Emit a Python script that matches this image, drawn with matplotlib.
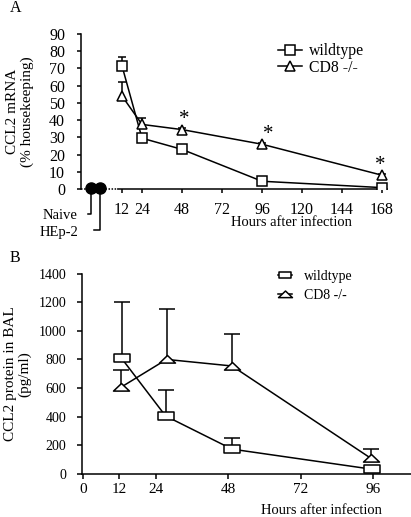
import matplotlib
matplotlib.use("Agg")
import matplotlib.pyplot as plt
from matplotlib.lines import Line2D
from matplotlib.path import Path
import numpy as np

plt.rcParams['font.family'] = ['Liberation Serif', 'DejaVu Serif']

# ---------------- Panel A data (CCL2 mRNA, % housekeeping) ----------------
a_hours_wt = [12, 24, 48, 96, 168]
a_wt = [71.5, 29.5, 23.0, 4.5, 0.8]
a_wt_err = [5.0, 1.5, 1.0, 1.0, 0.5]
a_hours_cd8 = [12, 24, 48, 96, 168]
a_cd8 = [54.0, 37.5, 34.5, 26.0, 8.0]
a_cd8_err = [8.0, 3.5, 1.0, 1.0, 1.0]
a_star_hours = [48, 96, 168]
a_star_vals = [34.5, 26.0, 8.0]
naive_x = [-6.5, -1.5]
naive_vals = [0.6, 0.6]
naive_labels = ["Naive", "HEp-2"]
a_xticks = [12, 24, 48, 72, 96, 120, 144, 168]
a_yticks = [0, 10, 20, 30, 40, 50, 60, 70, 80, 90]

# ---------------- Panel B data (CCL2 protein in BAL, pg/ml) ----------------
b_hours_wt = [12.7, 27.3, 49.3, 95.8]
b_wt = [808, 404, 172, 31]
b_wt_err = [395, 182, 78, 0]
b_hours_cd8 = [12.5, 27.6, 49.3, 95.3]
b_cd8 = [605, 800, 754, 108]
b_cd8_err = [120, 352, 224, 66]
b_xticks = [0, 12, 24, 48, 72, 96]
b_yticks = [0, 200, 400, 600, 800, 1000, 1200, 1400]

W, H = 411, 517
fig = plt.figure(figsize=(W / 100, H / 100), dpi=100)

lw = 1.1
# ======================= Panel A =======================
axA = fig.add_axes([81 / W, 1 - 189 / H, (387 - 81) / W, (189 - 34) / H])
axA.set_xlim(-12.6, 171)
axA.set_ylim(0, 90)
for s in ['top', 'right', 'bottom']:
    axA.spines[s].set_visible(False)
axA.spines['left'].set_linewidth(lw)
axA.set_xticks(a_xticks)
axA.set_yticks(a_yticks)
axA.tick_params(direction='out', length=3, width=lw, labelsize=11.5, pad=8.5)
axA.tick_params(axis='x', pad=6)
# x axis: dotted before 12 h, solid afterwards
axA.plot([-12.6, 9.5], [0, 0], color='k', lw=lw, ls=(0, (1, 1)), clip_on=False, zorder=2)
axA.plot([9.5, 171], [0, 0], color='k', lw=lw, clip_on=False, zorder=2)

def upper_err(ax, x, y, e, cap_ms):
    tops = [yy + ee for yy, ee in zip(y, e)]
    ax.vlines(x, y, tops, color='k', lw=lw, zorder=2)
    ax.plot(x, tops, ls='none', marker='_', ms=cap_ms, mew=lw, color='k', zorder=2)

upper_err(axA, a_hours_wt, a_wt, a_wt_err, 6)
upper_err(axA, a_hours_cd8, a_cd8, a_cd8_err, 6)
axA.plot(a_hours_wt, a_wt, color='k', lw=lw, marker='s', ms=6.5, mfc='white',
         mec='k', mew=lw, zorder=3, label='wildtype')
axA.plot(a_hours_cd8, a_cd8, color='k', lw=lw, marker='^', ms=6.8, mfc='white',
         mec='k', mew=lw, zorder=3, label='CD8 -/-')
star_dx = [1.5, 4.5, -1.5]
for hx, hy, dx in zip(a_star_hours, a_star_vals, star_dx):
    axA.annotate('*', (hx, hy), xytext=(dx, 0.5), textcoords='offset points',
                 ha='center', va='bottom', fontsize=15)

# naive / HEp-2 points and brackets
axA.plot(naive_x, naive_vals, ls='none', marker='o', ms=8, color='k',
         clip_on=False, zorder=5)
axA.plot([naive_x[0], naive_x[0], naive_x[0] - 2], [0, -14.5, -14.5],
         color='k', lw=lw, clip_on=False)
axA.plot([naive_x[1], naive_x[1], naive_x[1] - 3.5], [0, -24.0, -24.0],
         color='k', lw=lw, clip_on=False)
axA.text(-14.5, -15.5, naive_labels[0], ha='right', va='center', fontsize=10.5, clip_on=False)
axA.text(-14.0, -25.0, naive_labels[1], ha='right', va='center', fontsize=10.5, clip_on=False)

axA.set_ylabel('CCL2 mRNA\n(% housekeeping)', fontsize=11, labelpad=11, linespacing=1.15)
fig.text(291 / W, 1 - 223 / H, 'Hours after infection', ha='center', va='center', fontsize=10.5)
fig.text(10 / W, 1 - 8 / H, 'A', ha='left', va='center', fontsize=11.5)

axA.legend(loc='upper left', bbox_to_anchor=(278 / W, 1 - 43 / H),
           bbox_transform=fig.transFigure, frameon=False, fontsize=11.3,
           handlelength=1.5, handletextpad=0.45, labelspacing=0.05,
           borderpad=0, borderaxespad=0)

# ======================= Panel B =======================
wide_sq = Path([(-1, -0.55), (1, -0.55), (1, 0.55), (-1, 0.55), (-1, -0.55)],
               [Path.MOVETO, Path.LINETO, Path.LINETO, Path.LINETO, Path.CLOSEPOLY])
wide_tri = Path([(-1, -0.45), (1, -0.45), (0, 0.5), (-1, -0.45)],
                [Path.MOVETO, Path.LINETO, Path.LINETO, Path.CLOSEPOLY])

axB = fig.add_axes([82 / W, 1 - 473.7 / H, (411 - 82) / W, 200 / H])
axB.set_xlim(-0.4, 108.6)
axB.set_ylim(0, 1400)
for s in ['top', 'right']:
    axB.spines[s].set_visible(False)
for s in ['left', 'bottom']:
    axB.spines[s].set_linewidth(lw)
axB.set_xticks(b_xticks)
axB.set_yticks(b_yticks)
axB.tick_params(direction='out', length=3.5, width=lw, pad=8)
axB.tick_params(axis='y', labelsize=10)
axB.tick_params(axis='x', labelsize=11, pad=3)

upper_err(axB, b_hours_wt, b_wt, b_wt_err, 11)
upper_err(axB, b_hours_cd8, b_cd8, b_cd8_err, 11)
axB.plot(b_hours_wt, b_wt, color='k', lw=lw, marker=wide_sq, ms=11.5, mfc='white',
         mec='k', mew=lw, zorder=3, clip_on=False)
axB.plot(b_hours_cd8, b_cd8, color='k', lw=lw, marker=wide_tri, ms=11.5, mfc='white',
         mec='k', mew=lw, zorder=3, clip_on=False)

axB.set_ylabel('CCL2 protein in BAL\n(pg/ml)', fontsize=11, labelpad=5, linespacing=1.1)
fig.text(321 / W, 1 - 511 / H, 'Hours after infection', ha='center', va='center', fontsize=10.5)
fig.text(10 / W, 1 - 258 / H, 'B', ha='left', va='center', fontsize=11.5)

hB = [Line2D([], [], color='k', lw=lw, marker=wide_sq, ms=9, mfc='white', mec='k', mew=lw),
      Line2D([], [], color='k', lw=lw, marker=wide_tri, ms=10, mfc='white', mec='k', mew=lw)]
axB.legend(hB, ['wildtype', 'CD8 -/-'], loc='upper left',
           bbox_to_anchor=(278 / W, 1 - 270 / H), bbox_transform=fig.transFigure,
           frameon=False, fontsize=10, handlelength=1.0, handletextpad=0.9,
           labelspacing=0.45, borderpad=0, borderaxespad=0)

fig.savefig('out.png', dpi=100)
